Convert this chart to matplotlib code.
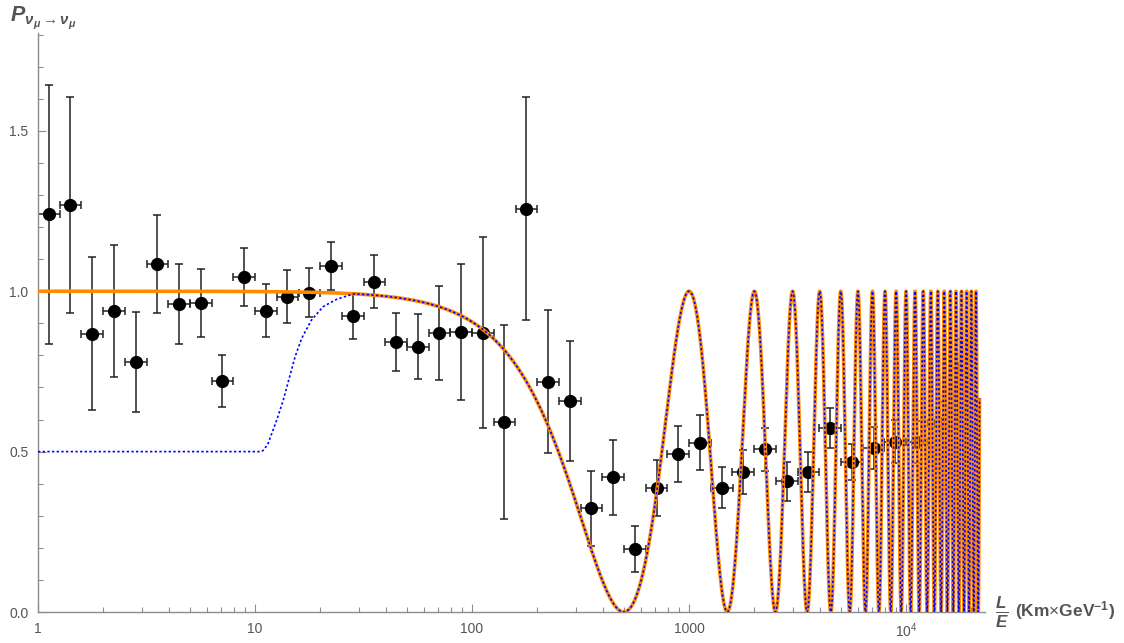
import numpy as np
import matplotlib
matplotlib.use("Agg")
import matplotlib.pyplot as plt
from matplotlib.ticker import FixedLocator, NullFormatter

plt.rcParams["font.family"] = ["Liberation Sans", "DejaVu Sans"]
plt.rcParams["mathtext.fontset"] = "custom"
plt.rcParams["mathtext.rm"] = "Liberation Sans"
plt.rcParams["mathtext.it"] = "Liberation Sans:italic"
plt.rcParams["mathtext.bf"] = "Liberation Sans:bold"
plt.rcParams["mathtext.bfit"] = "Liberation Sans:italic:bold"

# binned data, L/E in km/GeV (bin centres), survival ratio and its error
le_data = [1.12, 1.41, 1.78, 2.24, 2.82, 3.55, 4.47, 5.62, 7.08, 8.91,
           11.2, 14.1, 17.8, 22.4, 28.2, 35.5, 44.7, 56.2, 70.8, 89.1,
           112, 141, 178, 224, 282, 355, 447, 562, 708, 891,
           1122, 1413, 1778, 2239, 2818, 3548, 4467, 5623, 7079, 8913,
           11220, 14125, 17783]
p_data = [1.240, 1.269, 0.868, 0.939, 0.779, 1.085, 0.959, 0.964, 0.721, 1.045,
          0.939, 0.983, 0.996, 1.079, 0.924, 1.030, 0.841, 0.827, 0.869, 0.873,
          0.871, 0.592, 1.257, 0.718, 0.659, 0.323, 0.420, 0.196, 0.386, 0.493,
          0.528, 0.388, 0.436, 0.507, 0.408, 0.436, 0.573, 0.468, 0.511, 0.530,
          0.530, 0.589, 0.760]
p_err = [0.404, 0.338, 0.239, 0.206, 0.155, 0.153, 0.125, 0.106, 0.081, 0.090,
         0.082, 0.083, 0.077, 0.076, 0.072, 0.082, 0.090, 0.101, 0.146, 0.213,
         0.297, 0.303, 0.348, 0.222, 0.187, 0.117, 0.117, 0.072, 0.087, 0.088,
         0.085, 0.064, 0.068, 0.068, 0.061, 0.063, 0.063, 0.057, 0.065, 0.067,
         0.065, 0.065, 0.090]
BIN_DEX = 0.05  # half bin width in decades

# two-flavour oscillation model
DM2 = 2.48e-3      # eV^2
SIN2_2THETA = 1.0
LE_MAX = 21800

# blue (dotted) model: flat 0.5 below ~10 km/GeV, then joins the oscillation curve
blue_le = [1, 10.7, 11.0, 11.5, 12.6, 13.5, 14.3, 15.3, 16.4, 18.2, 20.6, 23.8]
blue_p = [0.5, 0.5, 0.506, 0.526, 0.599, 0.661, 0.723, 0.796, 0.853, 0.910, 0.952, 0.975]
BLUE_JOIN = 28.4

ORANGE = "#ff8a00"
BLUE = "#0000ff"
AXC = "#8c8c8c"
TXC = "#555555"


def p_surv(le):
    return 1.0 - SIN2_2THETA * np.sin(1.267 * DM2 * le) ** 2


fig = plt.figure(figsize=(11.24, 6.43), dpi=100)
ax = fig.add_axes([38 / 1124, 1 - 612 / 643, 947 / 1124, (612 - 33) / 643])

x = np.array(le_data)
xerr = [x - x / 10 ** BIN_DEX, x * 10 ** BIN_DEX - x]
ax.errorbar(x, p_data, xerr=xerr, yerr=p_err, fmt="o", color="black", ms=8.5,
            ecolor="#222222", elinewidth=1.1, capsize=3, capthick=1.1, zorder=2)

le = np.geomspace(1, LE_MAX, 60000)
ax.plot(le, p_surv(le), color=ORANGE, lw=2.6, zorder=3, solid_capstyle="butt")

le_b = le[le >= BLUE_JOIN]
bx = np.concatenate([blue_le, le_b])
by = np.concatenate([blue_p, p_surv(le_b)])
ax.plot(bx, by, color=BLUE, lw=1.2, linestyle=(0, (1.4, 1.4)), zorder=4)

ax.set_xscale("log")
ax.set_xlim(1, 23100)
ax.set_ylim(0, 1.805)

for s in ("top", "right"):
    ax.spines[s].set_visible(False)
for s in ("left", "bottom"):
    ax.spines[s].set_color(AXC)
    ax.spines[s].set_linewidth(1.0)

ax.xaxis.set_major_locator(FixedLocator([1, 10, 100, 1000, 10000]))
ax.set_xticklabels(["1", "10", "100", "1000", r"$10^4$"])
ax.xaxis.set_minor_formatter(NullFormatter())
ax.yaxis.set_major_locator(FixedLocator([0.0, 0.5, 1.0, 1.5]))
ax.set_yticklabels(["0.0", "0.5", "1.0", "1.5"])
ax.yaxis.set_minor_locator(FixedLocator(np.arange(0, 1.81, 0.1)))

ax.tick_params(which="both", direction="in", color=AXC, labelcolor=TXC,
               labelsize=10, width=0.8)
ax.tick_params(which="major", length=6, pad=7)
ax.tick_params(which="minor", length=3.5)

fig.text(0.009, 0.993, r"$\mathbfit{P}_{\mathbfit{\nu}_{\mathbfit{\mu}}\rightarrow\mathbfit{\nu}_{\mathbfit{\mu}}}$",
         fontsize=15.5, color=TXC, ha="left", va="top")
fig.text(995 / 1124, 1 - 612 / 643, r"$\frac{\mathbfit{L}}{\mathbfit{E}}$",
         fontsize=17.5, color=TXC, ha="left", va="center")
fig.text(1015 / 1124, 1 - 611 / 643, r"(Km$\times$GeV$^{\mathbf{-1}}$)",
         fontsize=12.5, fontweight="bold", color=TXC, ha="left", va="center")

fig.savefig("out.png", dpi=100, facecolor="white")
